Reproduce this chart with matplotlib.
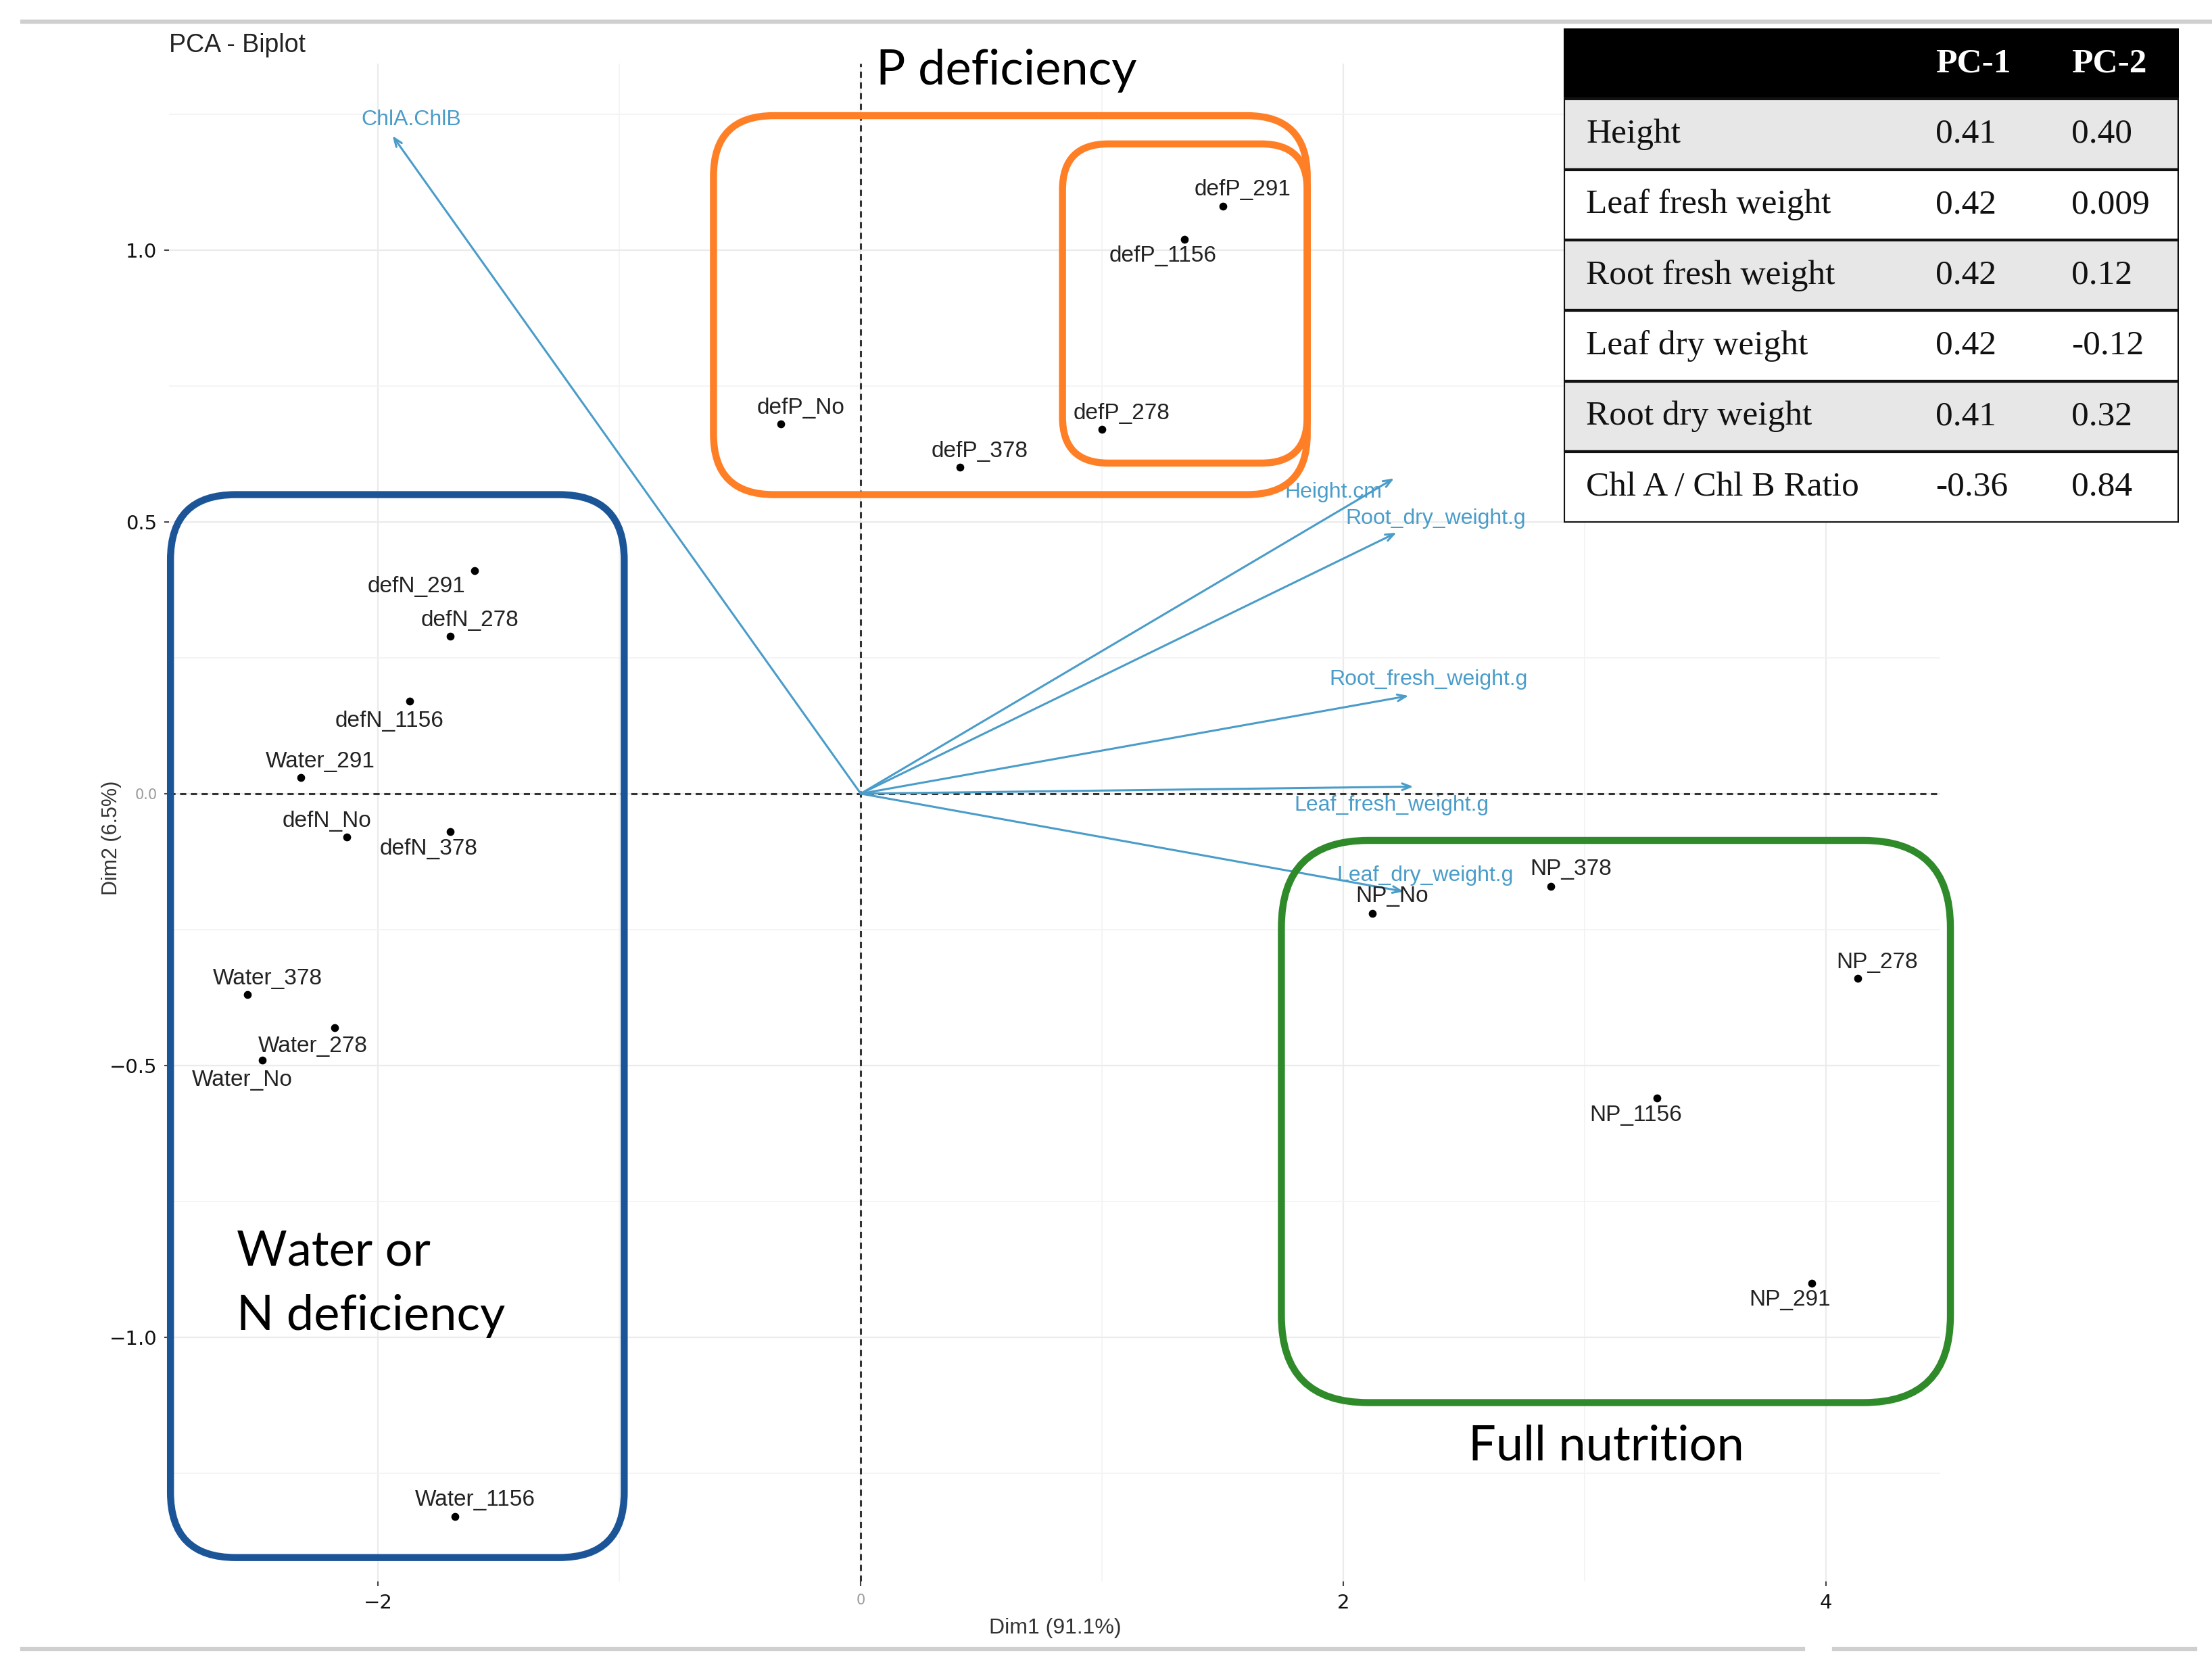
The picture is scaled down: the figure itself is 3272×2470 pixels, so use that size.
import numpy as np
import matplotlib
matplotlib.use("Agg")
import matplotlib.pyplot as plt
from matplotlib.patches import FancyBboxPatch, Rectangle
from matplotlib.lines import Line2D

# individuals (PCA scores)
obs_names = ["defP_291", "defP_1156", "defP_No", "defP_378", "defP_278",
             "defN_291", "defN_278", "defN_1156", "Water_291", "defN_No",
             "defN_378", "Water_378", "Water_278", "Water_No", "Water_1156",
             "NP_No", "NP_378", "NP_278", "NP_1156", "NP_291"]
obs_x = [1.50, 1.34, -0.33, 0.41, 1.00,
         -1.60, -1.70, -1.87, -2.32, -2.13,
         -1.70, -2.54, -2.18, -2.48, -1.68,
         2.12, 2.86, 4.13, 3.30, 3.94]
obs_y = [1.08, 1.02, 0.68, 0.60, 0.67,
         0.41, 0.29, 0.17, 0.03, -0.08,
         -0.07, -0.37, -0.43, -0.49, -1.33,
         -0.22, -0.17, -0.34, -0.56, -0.90]

# variables (loadings arrows)
var_names = ["ChlA.ChlB", "Height.cm", "Root_dry_weight.g", "Root_fresh_weight.g",
             "Leaf_fresh_weight.g", "Leaf_dry_weight.g"]
var_x = [-1.94, 2.21, 2.22, 2.27, 2.29, 2.25]
var_y = [1.21, 0.58, 0.48, 0.18, 0.013, -0.18]

# loadings table
tab_cols = ["PC-1", "PC-2"]
tab_rows = ["Height", "Leaf fresh weight", "Root fresh weight", "Leaf dry weight",
            "Root dry weight", "Chl A / Chl B Ratio"]
tab_pc1 = ["0.41", "0.42", "0.42", "0.42", "0.41", "-0.36"]
tab_pc2 = ["0.40", "0.009", "0.12", "-0.12", "0.32", "0.84"]

xticks = [-2, 0, 2, 4]
xtick_labels = ["\u22122", "0", "2", "4"]
yticks = [-1.0, -0.5, 0.0, 0.5, 1.0]
ytick_labels = ["\u22121.0", "\u22120.5", "0.0", "0.5", "1.0"]

# label offsets (points)
obs_off = [(21, 18), (-23, -18), (21, 17), (21, 17), (21, 17),
           (-62, -17), (21, 17), (-21, -21), (21, 17), (-21, 17),
           (-23, -18), (21, 17), (-23, -20), (-21, -21), (21, 18),
           (21, 18), (21, 18), (21, 17), (-23, -18), (-23, -18)]
var_off = [(20, 17), (-65, -15), (42, 15), (21, 17), (-23, -20), (23, 17)]

arrow_col = "#4a9cc9"

fig = plt.figure(figsize=(32.73, 24.70), dpi=100)
ax = fig.add_axes([0.0765, 0.053, 0.8005, 0.909])
ax.set_xlim(-2.865, 4.474)
ax.set_ylim(-1.449, 1.343)

for s in ax.spines.values():
    s.set_visible(False)

ax.set_xticks(xticks)
ax.set_xticklabels(xtick_labels)
ax.set_yticks(yticks)
ax.set_yticklabels(ytick_labels)
ax.set_xticks([-1, 1, 3], minor=True)
ax.set_yticks([-1.25, -0.75, -0.25, 0.25, 0.75, 1.25], minor=True)
ax.tick_params(which="major", length=5, width=1.5, color="#444444", labelsize=21,
               labelcolor="#111111", pad=8)
ax.tick_params(which="minor", length=0)
ax.grid(which="major", color="#ebebeb", lw=1.6, zorder=0)
ax.grid(which="minor", color="#f3f3f3", lw=1.3, zorder=0)
ax.set_axisbelow(True)
for lab in ax.get_xticklabels() + ax.get_yticklabels():
    if lab.get_text() in ("0", "0.0"):
        lab.set_color("#9a9a9a")
        lab.set_fontsize(15)

ax.axhline(0, color="#333333", lw=2.2, dashes=(3, 2.2), zorder=1)
ax.axvline(0, color="#333333", lw=2.2, dashes=(3, 2.2), zorder=1)

# arrows
for name, vx, vy, off in zip(var_names, var_x, var_y, var_off):
    ax.annotate("", xy=(vx, vy), xytext=(0, 0),
                arrowprops=dict(arrowstyle="->,head_length=0.9,head_width=0.35",
                                color=arrow_col, lw=2.2, shrinkA=0, shrinkB=0), zorder=2)
    ax.annotate(name, xy=(vx, vy), xytext=off, textcoords="offset points",
                ha="center", va="center", color=arrow_col, fontsize=23,
                family="Liberation Sans", zorder=3)

# points
ax.scatter(obs_x, obs_y, s=55, color="black", zorder=4)
for name, ox, oy, off in zip(obs_names, obs_x, obs_y, obs_off):
    ax.annotate(name, xy=(ox, oy), xytext=off, textcoords="offset points",
                ha="center", va="center", color="#222222", fontsize=24,
                family="Liberation Sans", zorder=4)

ax.set_xlabel("Dim1 (91.1%)", fontsize=23, color="#333333", family="Liberation Sans")
ax.set_ylabel("Dim2 (6.5%)", fontsize=22, color="#333333", family="Liberation Sans")
ax.xaxis.set_label_coords(0.5, -0.024)
ax.yaxis.set_label_coords(-0.027, 0.49)

fig.text(0.0765, 0.973, "PCA - Biplot", fontsize=27, family="Liberation Sans",
         color="#222222", va="center", ha="left")

# group boxes (data coords, round corners kept circular on screen)
fig.canvas.draw()
bb = ax.get_window_extent()
px_x = bb.width / (ax.get_xlim()[1] - ax.get_xlim()[0])
px_y = bb.height / (ax.get_ylim()[1] - ax.get_ylim()[0])
asp = px_x / px_y


def group_box(x0, x1, y0, y1, r, col):
    p = FancyBboxPatch((x0, y0), x1 - x0, y1 - y0,
                       boxstyle=f"round,pad=0,rounding_size={r}",
                       mutation_aspect=asp, fill=False, ec=col, lw=7.5,
                       clip_on=False, zorder=5)
    ax.add_patch(p)


group_box(-2.86, -0.98, -1.405, 0.55, 0.27, "#1b5597")
group_box(-0.61, 1.85, 0.55, 1.247, 0.25, "#ff7f27")
group_box(0.836, 1.85, 0.608, 1.195, 0.19, "#ff7f27")
group_box(1.743, 4.515, -1.12, -0.086, 0.36, "#2f8a2a")

big = dict(family="Lato", fontsize=52, color="black", zorder=6)
ax.text(0.064, 1.33, "P deficiency", ha="left", va="center", **big)
ax.text(-2.585, -0.842, "Water or", ha="left", va="center", **big)
ax.text(-2.585, -0.961, "N deficiency", ha="left", va="center", **big)
ax.text(3.088, -1.2, "Full nutrition", ha="center", va="center", **big)

# loadings table
tax = fig.add_axes([0.7066, 0.6872, 0.2781, 0.2958])
tax.set_xlim(0, 1)
tax.set_ylim(7, 0)
tax.axis("off")
tax.add_patch(Rectangle((0, 0), 1, 1, fc="black", ec="black", lw=3))
for i in range(len(tab_rows)):
    fc = "#e7e7e7" if i % 2 == 0 else "white"
    tax.add_patch(Rectangle((0, i + 1), 1, 1, fc=fc, ec="#111111", lw=3))
serif = dict(family="Liberation Serif", fontsize=37, va="center")
tax.text(0.605, 0.5, tab_cols[0], color="white", weight="bold", ha="left", **serif)
tax.text(0.825, 0.5, tab_cols[1], color="white", weight="bold", ha="left", **serif)
for i, (rn, a, b) in enumerate(zip(tab_rows, tab_pc1, tab_pc2)):
    tax.text(0.037, i + 1.5, rn, color="#111111", ha="left", **serif)
    tax.text(0.605, i + 1.5, a, color="#111111", ha="left", **serif)
    tax.text(0.825, i + 1.5, b, color="#111111", ha="left", **serif)

# screenshot frame lines
fig.add_artist(Line2D([0.01, 1.0], [0.987, 0.987], color="#cfcfcf", lw=4.5))
fig.add_artist(Line2D([0.01, 0.815], [0.0127, 0.0127], color="#cfcfcf", lw=4.5))
fig.add_artist(Line2D([0.829, 0.992], [0.0127, 0.0127], color="#cfcfcf", lw=4.5))

fig.savefig("out.png", dpi=100, facecolor="white")
